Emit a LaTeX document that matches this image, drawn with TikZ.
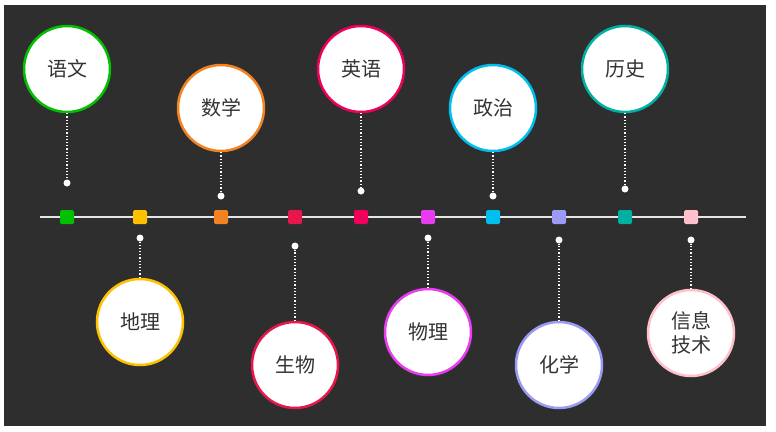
\documentclass[tikz,border=0pt]{standalone}
\usepackage{fontspec}
\newfontfamily\cjk{Noto Sans CJK SC}
\usetikzlibrary{positioning}
\definecolor{bgdark}{HTML}{2E2E2E}
\definecolor{txtgray}{HTML}{333333}
\begin{document}
\begin{tikzpicture}[x=1pt,y=-1pt,
  topic/.style={circle, draw=#1, line width=2.5pt, fill=white, minimum size=86pt, inner sep=0pt, align=center, font=\cjk\fontsize{20}{24}\selectfont, text=txtgray},
  mark box/.style={rectangle, rounded corners=1.5pt, fill=#1, minimum size=14pt, inner sep=0pt},
  pin dot/.style={circle, fill=white, minimum size=7pt, inner sep=0pt},
  stem/.style={white, dotted, line width=1.2pt}]
\useasboundingbox (0,0) rectangle (776,431);
\fill[bgdark] (4,5) rectangle (766,426);
\draw[white!80!gray, line width=1.5pt] (40,217) -- (746,217);
% x / circle y / dot y / colour / label
\foreach \x/\cy/\dy/\col/\lab [count=\i] in {
  67/69/183/00C000/语文,
  140/322/238/FFC000/地理,
  221/108/196/F58220/数学,
  295/365/246/E8174B/生物,
  361/69/191/F0005A/英语,
  428/332/238/E83CF0/物理,
  493/108/196/00BFEF/政治,
  559/365/240/9B9BF5/化学,
  625/69/189/00B0A0/历史,
  691/333/240/FFC0CB/{信息\\技术}}{
  \definecolor{c\i}{HTML}{\col}
  \node[mark box=c\i] (m\i) at (\x,217) {};
  \node[pin dot] (d\i) at (\x,\dy) {};
  \node[topic=c\i] (t\i) at (\x,\cy) {\lab};
  \draw[stem] (t\i) -- (d\i);
}
\end{tikzpicture}
\end{document}
